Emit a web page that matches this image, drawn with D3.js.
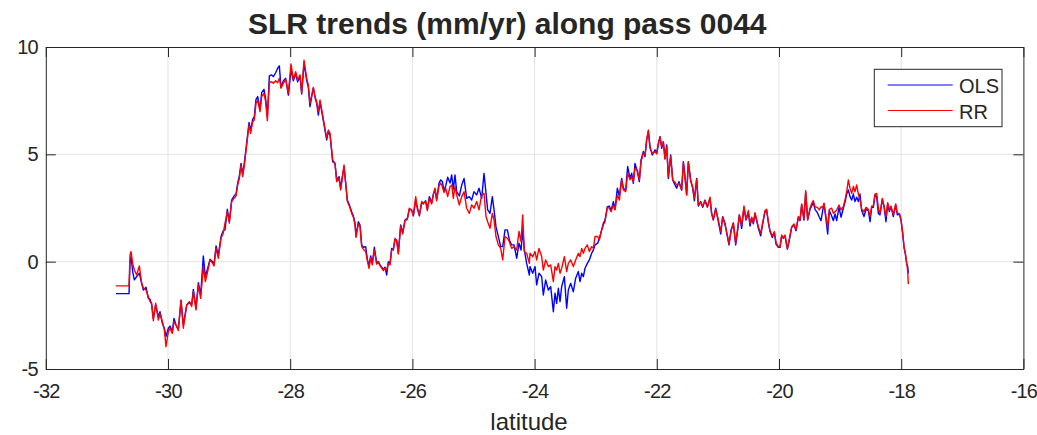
<!DOCTYPE html>
<html>
<head>
<meta charset="utf-8">
<script src="https://cdn.jsdelivr.net/npm/d3@7"></script>
<style>
  body { margin: 0; background: #fff; }
  svg text { font-family: "Liberation Sans", Arial, Helvetica, sans-serif; fill: #262626; }
</style>
</head>
<body>
<svg id="chart" width="1037" height="435"></svg>
<script>
// latitude of each along-track point (deg)
const lat = [
  -30.851, -30.638, -30.622, -30.605, -30.578, -30.551, -30.513, -30.469, -30.431, -30.403,
  -30.360, -30.322, -30.294, -30.267, -30.240, -30.202, -30.158, -30.131, -30.093, -30.060,
  -30.033, -29.994, -29.967, -29.929, -29.902, -29.869, -29.831, -29.787, -29.749, -29.694,
  -29.651, -29.612, -29.585, -29.542, -29.503, -29.465, -29.422, -29.389, -29.351, -29.312,
  -29.269, -29.247, -29.214, -29.176, -29.132, -29.094, -29.067, -29.029, -28.996, -28.958,
  -28.920, -28.887, -28.860, -28.832, -28.805, -28.778, -28.750, -28.712, -28.674, -28.647,
  -28.614, -28.587, -28.560, -28.532, -28.494, -28.467, -28.429, -28.401, -28.374, -28.341,
  -28.303, -28.276, -28.238, -28.205, -28.178, -28.150, -28.112, -28.074, -28.030, -27.987,
  -27.949, -27.910, -27.878, -27.839, -27.812, -27.774, -27.730, -27.703, -27.676, -27.648,
  -27.621, -27.594, -27.567, -27.539, -27.512,
  -27.403, -27.376, -27.348, -27.305, -27.267, -27.239, -27.201, -27.174, -27.147, -27.119,
  -27.092, -27.065, -27.032, -26.994, -26.966, -26.939, -26.923, -26.885, -26.857, -26.830,
  -26.803, -26.765, -26.737, -26.710, -26.683, -26.656, -26.623, -26.585, -26.557, -26.519,
  -26.475, -26.448, -26.421, -26.394, -26.366, -26.339, -26.312, -26.285, -26.257, -26.230,
  -26.192, -26.159, -26.121, -26.083, -26.050, -26.012, -25.984, -25.946, -25.919, -25.886,
  -25.848, -25.821, -25.783, -25.755, -25.723, -25.684, -25.657, -25.630, -25.603, -25.564,
  -25.537, -25.510, -25.483, -25.455, -25.423, -25.384, -25.357, -25.330, -25.303, -25.275,
  -25.232, -25.193, -25.155, -25.112, -25.068, -25.030, -24.992, -24.948, -24.910, -24.866,
  -24.828, -24.795, -24.768, -24.730, -24.692, -24.664, -24.632, -24.593, -24.555, -24.522,
  -24.484, -24.446, -24.413, -24.375, -24.337, -24.293, -24.255, -24.222, -24.195, -24.168,
  -24.130, -24.086,
  -24.075, -24.031, -23.993, -23.966, -23.928, -23.884, -23.857, -23.819, -23.775, -23.737,
  -23.693, -23.666, -23.639, -23.611, -23.584, -23.557, -23.513, -23.475, -23.448, -23.409,
  -23.366, -23.328, -23.284, -23.257, -23.229, -23.202, -23.175, -23.137, -23.104, -23.066,
  -23.038, -23.011, -22.968, -22.940, -22.902, -22.875, -22.848, -22.809, -22.777, -22.749,
  -22.711, -22.684, -22.646, -22.613, -22.575, -22.547, -22.509, -22.477, -22.438, -22.411,
  -22.384, -22.357, -22.318, -22.286, -22.258, -22.220, -22.193, -22.166, -22.138, -22.111,
  -22.073, -22.029, -22.002, -21.975, -21.947, -21.920, -21.893, -21.866, -21.838, -21.811,
  -21.773, -21.740, -21.702, -21.675, -21.636, -21.593, -21.565, -21.538, -21.511, -21.484,
  -21.445, -21.413, -21.385, -21.347, -21.320, -21.282, -21.249, -21.211, -21.173, -21.129,
  -21.102, -21.075, -21.036, -20.993, -20.954, -20.922, -20.884, -20.845, -20.818, -20.785,
  -20.747, -20.709, -20.676, -20.649,
  -20.611, -20.573, -20.540, -20.502, -20.474, -20.447, -20.420, -20.393, -20.365, -20.338,
  -20.300, -20.256, -20.229, -20.202, -20.174, -20.147, -20.109, -20.076, -20.049, -20.011,
  -19.983, -19.956, -19.929, -19.902, -19.863, -19.836, -19.792, -19.754, -19.722, -19.683,
  -19.656, -19.629, -19.591, -19.563, -19.531, -19.492, -19.465, -19.438, -19.411, -19.372,
  -19.340, -19.312, -19.285, -19.263, -19.231, -19.203, -19.176, -19.138, -19.110, -19.083,
  -19.056, -19.018, -18.985, -18.947, -18.914, -18.892, -18.865, -18.838, -18.810, -18.783,
  -18.756, -18.729, -18.701, -18.674, -18.647, -18.609, -18.576, -18.538, -18.510, -18.483,
  -18.456, -18.429, -18.401, -18.374, -18.347, -18.309, -18.281, -18.249, -18.221, -18.194,
  -18.167, -18.129, -18.090, -18.063, -18.030, -18.003, -17.976, -17.954, -17.932, -17.910,
  -17.894, -17.883
];

// OLS trend (mm/yr)
const olsTrend = [
  -1.49, -1.49, -0.08, 0.23, -0.46, -0.85, -0.70, -0.54, -1.01, -1.32,
  -1.19, -1.71, -1.75, -2.02, -2.64, -2.02, -2.56, -2.33, -2.87, -3.10,
  -3.49, -3.10, -3.00, -3.26, -2.64, -2.95, -3.15, -1.82, -2.95, -2.02,
  -1.91, -1.97, -1.29, -2.17, -0.98, -1.55, 0.27, -0.70, -0.31, 0.11,
  0.00, -0.15, 0.73, 0.31, 1.17, 1.45, 1.48, 2.44, 1.86, 2.87,
  3.06, 3.15, 3.65, 3.99, 4.58, 4.08, 4.61, 5.54, 6.48, 6.13,
  6.63, 6.76, 7.56, 7.69, 7.10, 7.87, 8.03, 7.56, 6.76, 8.65,
  8.70, 8.62, 8.80, 9.01, 9.12, 8.12, 8.43, 8.54, 7.76, 8.93,
  8.43, 8.74, 8.38, 8.62, 7.81, 9.24, 8.43, 8.12, 7.22, 7.69,
  8.08, 7.66, 7.38, 6.83, 7.45,
  5.67, 6.06, 5.90, 4.66, 4.58, 3.81, 3.96, 3.42, 3.96, 4.43,
  3.66, 2.87, 2.64, 2.33, 2.13, 1.79, 1.20, 1.86, 1.71, 0.78,
  0.67, 0.70, 0.11, -0.20, 0.27, -0.08, 0.67, -0.05, 0.00, -0.20,
  -0.36, -0.26, -0.62, 0.00, -0.08, 0.62, 0.54, 1.04, 1.01, 0.42,
  1.71, 1.35, 1.94, 2.02, 2.44, 2.41, 2.13, 2.87, 2.53, 2.13,
  2.75, 2.69, 2.84, 2.44, 3.03, 2.75, 3.15, 3.37, 2.90, 3.66,
  3.81, 3.73, 3.31, 3.53, 3.93, 3.66, 4.04, 3.37, 4.04, 3.26,
  3.06, 3.57, 3.88, 2.95, 3.03, 2.87, 3.26, 3.11, 3.42, 2.95,
  4.11, 3.18, 2.41, 2.25, 3.03, 2.41, 1.63, 1.17, 0.70, 0.70,
  1.48, 1.48, 1.01, 0.78, 0.78, 0.16, 0.86, 0.54, 1.48, 0.54,
  -0.08, -0.62,
  -0.23, -0.54, -0.23, -1.08, -0.54, -0.70, -1.55, -0.85, -1.32, -1.16,
  -2.33, -1.47, -1.94, -1.24, -1.86, -1.16, -0.70, -2.17, -1.32, -1.01,
  -1.40, -0.77, -0.46, -0.93, -0.54, -0.70, -0.31, -0.08, 0.08, 0.39,
  0.55, 0.78, 0.86, 1.09, 1.48, 1.79, 1.94, 2.56, 2.59, 2.38,
  2.80, 2.44, 3.42, 3.06, 3.88, 3.42, 3.34, 4.43, 3.88, 4.12,
  3.65, 4.58, 4.19, 3.73, 4.74, 5.13, 4.89, 5.67, 6.06, 5.36,
  4.97, 5.21, 5.05, 5.51, 5.82, 5.28, 5.59, 4.81, 5.44, 3.88,
  4.97, 3.81, 3.57, 3.42, 3.73, 3.34, 4.66, 3.96, 3.11, 4.66,
  3.81, 3.42, 2.84, 3.88, 2.59, 2.80, 2.53, 2.87, 2.56, 2.95,
  2.25, 1.94, 2.49, 1.86, 1.29, 2.10, 1.79, 1.17, 0.78, 1.48,
  1.79, 0.78, 1.48, 2.18,
  1.55, 2.53, 1.94, 2.28, 1.66, 2.02, 1.76, 2.22, 1.91, 1.55,
  1.20, 1.94, 2.33, 2.38, 1.82, 1.40, 1.13, 1.35, 0.82, 0.67,
  0.67, 1.20, 1.09, 1.20, 0.58, 0.93, 1.60, 1.71, 1.44, 2.07,
  1.91, 2.64, 1.94, 3.22, 1.94, 2.44, 2.59, 2.75, 2.44, 2.28,
  2.07, 1.91, 2.38, 2.69, 1.97, 1.29, 2.38, 2.13, 1.91, 2.22,
  1.91, 2.53, 2.07, 2.49, 2.84, 3.15, 3.34, 3.03, 2.87, 3.15,
  2.80, 3.00, 2.80, 3.15, 2.38, 2.10, 2.44, 2.38, 1.86, 2.53,
  2.53, 3.11, 3.00, 2.25, 2.18, 2.90, 2.56, 1.86, 2.69, 2.33,
  2.56, 2.10, 2.64, 2.18, 2.22, 1.94, 1.32, 0.67, 0.36, -0.11,
  -0.20, -0.54
];

// RR trend (mm/yr)
const rrTrend = [
  -1.13, -1.13, 0.31, 0.47, -0.08, -0.39, -0.62, -0.20, -1.01, -1.24,
  -1.32, -1.63, -1.86, -1.94, -2.75, -1.94, -2.72, -2.41, -2.79, -3.18,
  -3.96, -3.26, -3.10, -3.34, -2.79, -2.95, -3.21, -1.78, -3.10, -2.02,
  -1.86, -2.09, -1.40, -2.25, -1.09, -1.71, -0.23, -0.93, -0.46, 0.08,
  -0.08, -0.20, 0.62, 0.16, 1.09, 1.35, 1.79, 2.33, 1.79, 2.80,
  2.95, 3.06, 3.57, 3.88, 4.50, 3.96, 4.50, 5.44, 6.37, 5.98,
  6.52, 6.60, 7.38, 7.53, 6.99, 7.69, 7.84, 7.45, 6.57, 8.34,
  8.38, 8.31, 8.43, 8.34, 8.54, 8.08, 8.31, 8.49, 7.84, 9.21,
  8.49, 8.85, 8.46, 8.70, 7.87, 9.39, 8.54, 8.23, 7.38, 7.76,
  8.12, 7.69, 7.45, 6.99, 7.53,
  5.75, 6.13, 5.98, 4.74, 4.58, 3.73, 3.88, 3.34, 3.88, 4.50,
  3.66, 2.80, 2.59, 2.25, 2.07, 1.71, 1.13, 1.76, 1.63, 0.70,
  0.58, 0.47, 0.05, -0.31, 0.20, -0.15, 0.54, -0.11, -0.05, -0.23,
  -0.42, -0.31, -0.39, -0.08, -0.15, 0.54, 0.58, 1.09, 0.93, 0.36,
  1.66, 1.29, 1.91, 1.97, 2.49, 2.38, 2.18, 3.03, 2.44, 2.18,
  2.80, 2.72, 2.80, 2.38, 2.95, 2.69, 3.11, 3.42, 2.84, 3.53,
  3.66, 3.50, 3.22, 3.42, 3.03, 3.50, 3.57, 2.95, 3.50, 3.11,
  2.64, 3.03, 3.26, 2.49, 2.25, 2.64, 2.49, 2.80, 2.41, 3.11,
  3.18, 2.10, 1.86, 1.55, 2.25, 1.94, 1.17, 0.78, 0.62, 0.08,
  1.17, 1.09, 0.93, 0.62, 0.70, 0.54, 1.41, 0.93, 2.18, 0.47,
  0.39, -0.08,
  0.39, 0.23, 0.47, 0.08, 0.62, 0.23, -0.39, 0.08, -0.23, -0.15,
  -0.93, -0.23, -0.39, -0.08, -0.54, -0.31, 0.23, -0.46, -0.08, 0.08,
  -0.23, 0.08, 0.39, 0.23, 0.62, 0.39, 0.62, 0.78, 0.47, 0.70,
  0.62, 1.17, 1.17, 1.01, 1.48, 1.71, 1.86, 2.53, 2.49, 2.33,
  2.64, 2.41, 3.11, 2.87, 3.81, 3.34, 3.26, 4.12, 3.81, 3.96,
  3.73, 4.35, 4.27, 3.81, 4.66, 5.05, 4.97, 5.67, 6.13, 5.28,
  5.05, 5.13, 5.02, 5.44, 5.82, 5.36, 5.59, 4.77, 5.36, 3.96,
  4.89, 3.81, 3.69, 3.57, 3.65, 3.34, 4.61, 3.88, 3.11, 4.61,
  3.73, 3.50, 2.95, 3.84, 2.64, 2.75, 2.59, 2.84, 2.53, 3.00,
  2.22, 1.97, 2.44, 1.94, 1.40, 2.07, 1.71, 1.24, 0.83, 1.40,
  1.82, 0.86, 1.55, 2.18,
  1.71, 2.59, 1.97, 2.38, 1.79, 2.07, 1.82, 2.28, 1.94, 1.63,
  1.32, 1.97, 2.38, 2.44, 1.86, 1.44, 1.20, 1.40, 0.89, 0.70,
  0.70, 1.24, 1.09, 1.24, 0.62, 0.98, 1.63, 1.76, 1.48, 2.10,
  1.94, 2.69, 1.97, 3.31, 1.97, 2.49, 2.72, 2.84, 2.56, 2.53,
  2.41, 2.56, 2.53, 2.72, 2.10, 1.60, 2.44, 2.49, 2.25, 2.33,
  2.41, 2.64, 2.41, 2.56, 2.95, 3.26, 3.81, 3.42, 3.18, 3.50,
  3.26, 3.57, 3.15, 2.87, 2.44, 2.33, 2.53, 2.44, 2.10, 2.59,
  2.59, 3.15, 3.18, 2.49, 2.25, 2.95, 2.59, 2.10, 2.75, 2.41,
  2.59, 2.18, 2.69, 2.25, 2.25, 1.97, 1.35, 0.70, 0.39, -0.05,
  -0.46, -1.04
];

const xTicks = [-32, -30, -28, -26, -24, -22, -20, -18, -16];
const yTicks = [-5, 0, 5, 10];
const seriesNames = ["OLS", "RR"];
const seriesColors = ["#0000ff", "#ff0000"];

(function() {
  var svg = d3.select("#chart");
  var plotL = 45.8, plotR = 1023.4, plotT = 47, plotB = 369;

  var x = d3.scaleLinear().domain([-32, -16]).range([plotL, plotR]);
  var y = d3.scaleLinear().domain([-5, 10]).range([plotB, plotT]);

  // grid
  var grid = svg.append("g").attr("class", "grid");
  grid.selectAll("line.gx")
    .data(xTicks.slice(1, -1))
    .enter().append("line")
      .attr("x1", function(d) { return x(d); })
      .attr("x2", function(d) { return x(d); })
      .attr("y1", plotT).attr("y2", plotB)
      .attr("stroke", "#e3e3e3").attr("stroke-width", 1);
  grid.selectAll("line.gy")
    .data(yTicks.slice(1, -1))
    .enter().append("line")
      .attr("y1", function(d) { return y(d); })
      .attr("y2", function(d) { return y(d); })
      .attr("x1", plotL).attr("x2", plotR)
      .attr("stroke", "#e3e3e3").attr("stroke-width", 1);

  // series
  var line = d3.line()
    .x(function(d) { return x(d[0]); })
    .y(function(d) { return y(d[1]); });

  [olsTrend, rrTrend].forEach(function(vals, i) {
    svg.append("path")
      .datum(lat.map(function(l, j) { return [l, vals[j]]; }))
      .attr("fill", "none")
      .attr("stroke", seriesColors[i])
      .attr("stroke-width", 1.4)
      .attr("stroke-linejoin", "round")
      .attr("d", line);
  });

  // axes (MATLAB style: ticks inside, box on)
  function styleAxis(g) {
    g.selectAll("path.domain").attr("stroke", "#262626").attr("stroke-width", 1);
    g.selectAll(".tick line").attr("stroke", "#262626").attr("stroke-width", 1);
    g.selectAll(".tick text")
      .attr("fill", "#262626")
      .style("font-size", "20px")
      .style("letter-spacing", "-0.8px")
      .style("font-family", "'Liberation Sans', Arial, Helvetica, sans-serif");
  }
  var fmt = function(d) { return String(d); };

  svg.append("g").attr("transform", "translate(0," + plotB + ")")
    .call(d3.axisBottom(x).tickValues(xTicks).tickFormat(fmt).tickSizeInner(-10).tickSizeOuter(0).tickPadding(15))
    .call(styleAxis);
  svg.append("g").attr("transform", "translate(0," + plotT + ")")
    .call(d3.axisTop(x).tickValues(xTicks).tickFormat("").tickSizeInner(-10).tickSizeOuter(0))
    .call(styleAxis);
  svg.append("g").attr("transform", "translate(" + plotL + ",0)")
    .call(d3.axisLeft(y).tickValues(yTicks).tickFormat(fmt).tickSizeInner(-10).tickSizeOuter(0).tickPadding(8))
    .call(styleAxis);
  svg.append("g").attr("transform", "translate(" + plotR + ",0)")
    .call(d3.axisRight(y).tickValues(yTicks).tickFormat("").tickSizeInner(-10).tickSizeOuter(0))
    .call(styleAxis);

  // title & label
  svg.append("text")
    .attr("x", 248).attr("y", 34)
    .style("font-size", "30px").style("font-weight", "bold")
    .attr("fill", "#000")
    .text("SLR trends (mm/yr) along pass 0044");

  svg.append("text")
    .attr("x", 529).attr("y", 430)
    .attr("text-anchor", "middle")
    .style("font-size", "24px")
    .text("latitude");

  // legend
  var legend = svg.append("g").attr("class", "legend");
  legend.append("rect")
    .attr("x", 874.3).attr("y", 69.3).attr("width", 127.7).attr("height", 57.4)
    .attr("fill", "#fff").attr("stroke", "#262626").attr("stroke-width", 1);
  var item = legend.selectAll("g.item")
    .data(seriesNames)
    .enter().append("g")
      .attr("transform", function(d, i) { return "translate(0," + (85 + i * 25.5) + ")"; });
  item.append("line")
    .attr("x1", 887.7).attr("x2", 952.7)
    .attr("stroke", function(d, i) { return seriesColors[i]; })
    .attr("stroke-width", 1.2);
  item.append("text")
    .attr("x", 959).attr("y", 8)
    .style("font-size", "20px")
    .text(function(d) { return d; });
})();
</script>
</body>
</html>
